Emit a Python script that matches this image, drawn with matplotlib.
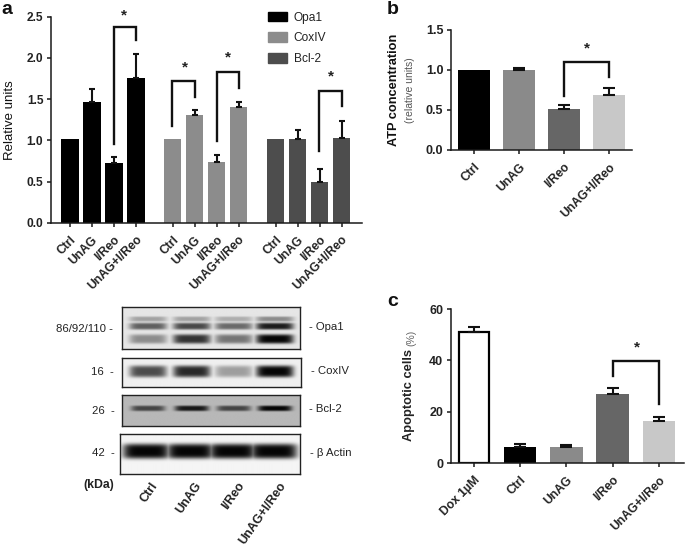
import numpy as np
import matplotlib
matplotlib.use("Agg")
import matplotlib.pyplot as plt
from matplotlib.patches import Patch

plt.rcParams['font.family'] = ['Liberation Sans', 'DejaVu Sans']
W, H = 685, 547
fig = plt.figure(figsize=(W/100, H/100), dpi=100)

# ---------- data ----------
conds = ['Ctrl', 'UnAG', 'I/Reo', 'UnAG+I/Reo']
conds_c = ['Dox 1µM', 'Ctrl', 'UnAG', 'I/Reo', 'UnAG+I/Reo']
proteins = ['Opa1', 'CoxIV', 'Bcl-2']
opa1 = [1.01, 1.47, 0.73, 1.76]
opa1_err = [0, 0.15, 0.07, 0.29]
coxiv = [1.01, 1.31, 0.74, 1.41]
coxiv_err = [0, 0.06, 0.08, 0.06]
bcl2 = [1.01, 1.01, 0.50, 1.03]
bcl2_err = [0, 0.11, 0.15, 0.21]
atp = [1.0, 1.0, 0.51, 0.69]
atp_err = [0, 0.03, 0.05, 0.09]
apop = [51.2, 6.3, 6.2, 26.8, 16.2]
apop_err = [1.7, 1.0, 0.9, 2.3, 1.6]

# band strength per lane (0-1), read from the blots
opa1_top = [0.30, 0.30, 0.25, 0.40]
opa1_mid = [0.60, 0.70, 0.55, 0.90]
opa1_low = [0.40, 0.80, 0.50, 1.00]
cox_band = [0.70, 0.85, 0.35, 1.00]
bcl_band = [0.65, 0.90, 0.65, 1.00]
act_band = [1.00, 1.00, 1.00, 1.00]
lane_centres = [0.58, 1.56, 2.50, 3.42]

def px_axes(l, t, r, b):
    return fig.add_axes([l/W, 1-b/H, (r-l)/W, (b-t)/H])

def style(ax, yticks, fmt, xticks, labels, fs=8.7, yfs=8.6, ticklen=3):
    for s in ('top', 'right'):
        ax.spines[s].set_visible(False)
    for s in ('left', 'bottom'):
        ax.spines[s].set_linewidth(1.1)
        ax.spines[s].set_color('#1a1a1a')
    ax.set_yticks(yticks)
    ax.set_yticklabels([fmt % v for v in yticks], fontweight='bold', fontsize=yfs, color='#222222')
    ax.set_xticks(xticks)
    ax.set_xticklabels(labels, rotation=45, ha='right', rotation_mode='anchor',
                       fontweight='bold', fontsize=fs, color='#222222')
    ax.tick_params(axis='both', length=ticklen, width=1.1, color='#1a1a1a', pad=2.5)
    ax.tick_params(axis='x', pad=5)

def bracket(ax, x0, x1, y_left, y_top, y_right, star_x, star_y, lw=1.7):
    ax.plot([x0, x0, x1, x1], [y_left, y_top, y_top, y_right], color='#111111', lw=lw,
            solid_joinstyle='miter', clip_on=False)
    ax.text(star_x, star_y, '*', ha='center', va='center', fontsize=11, color='#222222',
            fontweight='bold', clip_on=False)

def bars(ax, x, vals, errs, colors, width, cap, edge=None, lw=0):
    x = np.asarray(x)
    vals = np.asarray(vals)
    errs = np.asarray(errs)
    ax.bar(x, vals, width=width, color=colors, edgecolor=edge if edge else colors, linewidth=lw)
    m = errs > 0
    ax.errorbar(x[m], vals[m], yerr=[np.zeros(m.sum()), errs[m]], fmt='none', ecolor='#111111',
                elinewidth=1.5, capsize=cap, capthick=1.5)

# ---------- panel a ----------
ax = px_axes(51, 16.7, 362, 222.7)
unit = 22.0
ax.set_xlim(-(69.7-51)/unit, (362-69.7)/unit)
ax.set_ylim(0, 2.5)
group_step = 4.68
series = [opa1, coxiv, bcl2]
series_err = [opa1_err, coxiv_err, bcl2_err]
cols = ['#000000', '#8c8c8c', '#4d4d4d']
xt, xl = [], []
for g, (v, e, c) in enumerate(zip(series, series_err, cols)):
    x = np.arange(4) + g*group_step
    bars(ax, x, v, e, c, 0.80, 2.4)
    xt += list(x)
    xl += conds
style(ax, [0, 0.5, 1, 1.5, 2, 2.5], '%.1f', xt, xl)
ax.set_ylabel('Relative units', fontsize=9.5, fontweight='normal', color='#111111', labelpad=8)
bracket(ax, 2, 3, 0.955, 2.37, 2.22, 2.48, 2.52)
bracket(ax, 4.66, 5.68, 1.17, 1.72, 1.53, 5.22, 1.88)
bracket(ax, 6.68, 7.68, 0.99, 1.83, 1.64, 7.2, 2.0)
bracket(ax, 11.35, 12.36, 0.87, 1.60, 1.42, 11.86, 1.77)
fig.legend(handles=[Patch(color=c, label=p) for c, p in zip(cols, proteins)],
           loc='upper left', bbox_to_anchor=(268/W, 1-11.5/H), frameon=False, fontsize=8.6,
           handlelength=1.6, handleheight=0.85, handletextpad=0.55, labelspacing=0.74,
           labelcolor='#222222', borderpad=0, borderaxespad=0)

# ---------- panel b ----------
ax = px_axes(451, 30, 632, 150)
unit = 45.2
ax.set_xlim(-(473.7-451)/unit, (632-473.7)/unit)
ax.set_ylim(0, 1.5)
x = np.arange(4)
cols_b = ['#000000', '#8a8a8a', '#666666', '#c8c8c8']
bars(ax, x, atp, atp_err, cols_b, 0.70, 4.6)
style(ax, [0, 0.5, 1, 1.5], '%.1f', x, conds, yfs=9)
bracket(ax, 2, 3, 0.675, 1.10, 0.915, 2.5, 1.27)
fig.text(394/W, 1-90/H, 'ATP concentration', rotation=90, ha='center', va='center',
         fontsize=9.2, fontweight='bold', color='#111111')
fig.text(410/W, 1-90/H, '(relative units)', rotation=90, ha='center', va='center',
         fontsize=7.5, color='#555555')

# ---------- panel c ----------
ax = px_axes(451, 309, 684, 463)
unit = 46.2
ax.set_xlim(-(474-451)/unit, (684-474)/unit)
ax.set_ylim(0, 60)
x = np.arange(5)
cols_c = ['#ffffff', '#000000', '#8a8a8a', '#666666', '#c8c8c8']
ax.bar(x[:1], apop[:1], width=0.66, color='white', edgecolor='black', linewidth=1.6)
bars(ax, x[1:], apop[1:], apop_err[1:], cols_c[1:], 0.70, 4.6)
ax.errorbar(x[:1], apop[:1], yerr=[[0], apop_err[:1]], fmt='none', ecolor='#111111',
            elinewidth=1.5, capsize=4.6, capthick=1.5)
style(ax, [0, 20, 40, 60], '%d', x, conds_c, yfs=9)
bracket(ax, 3, 4, 34, 39.7, 23, 3.53, 45)
fig.text(409/W, 1-395/H, 'Apoptotic cells', rotation=90, ha='center', va='center',
         fontsize=9.3, fontweight='bold', color='#222222')
fig.text(411/W, 1-337.5/H, '(%)', rotation=90, ha='center', va='center',
         fontsize=7.5, color='#666666')

# ---------- blots ----------
def blot(box, bands, bg=0.95, bw=0.42):
    l, t, r, b = box
    w, h = int(r-l), int(b-t)
    xx, yy = np.meshgrid(np.linspace(0, 4, w*2), np.linspace(0, 1, h*2))
    img = np.full(xx.shape, bg, dtype=float)
    for strengths, yc, sy in bands:
        dark = np.zeros(xx.shape)
        for c, s in zip(lane_centres, strengths):
            lane = np.exp(-((xx-c)/bw)**6)
            dark = np.maximum(dark, (bg-0.02)*s*lane*np.exp(-((yy-yc)/sy)**4))
        img -= dark
    a = px_axes(l, t, r, b)
    a.imshow(np.clip(img, 0, 1), cmap='gray', vmin=0, vmax=1, aspect='auto',
             extent=(0, 4, 1, 0), interpolation='bilinear')
    a.set_xticks([])
    a.set_yticks([])
    for s in a.spines.values():
        s.set_linewidth(1.0)
        s.set_color('#222222')

blot((121.7, 306.7, 300, 349.3), [(opa1_top, 0.30, 0.06), (opa1_mid, 0.47, 0.08), (opa1_low, 0.77, 0.11)], bg=0.90)
blot((122.3, 357.7, 300.7, 387), [(cox_band, 0.48, 0.20)], bg=0.94)
blot((121.7, 395.3, 300, 425.7), [(bcl_band, 0.43, 0.09)], bg=0.72, bw=0.38)
blot((120.3, 434.3, 299.7, 474.3), [(act_band, 0.43, 0.19)], bg=0.96, bw=0.52)

def t(x, y, s, ha='left', **kw):
    kw.setdefault('fontsize', 8.2)
    kw.setdefault('color', '#222222')
    fig.text(x/W, 1-y/H, s, ha=ha, va='center', **kw)

t(113, 328.7, '86/92/110 -', ha='right')
t(114, 371.7, '16  -', ha='right')
t(115, 410.7, '26  -', ha='right')
t(115, 452.7, '42  -', ha='right')
t(308.7, 326.7, '- Opa1')
t(310.7, 371, '- CoxIV')
t(309, 409.3, '- Bcl-2')
t(310, 452.7, '- β Actin')
t(114, 485, '(kDa)', ha='right', fontweight='bold', fontsize=8.8)
for cx, lab in zip([150, 194, 237, 279], conds):
    fig.text(cx/W, 1-480/H, lab, rotation=55, ha='right', va='top', rotation_mode='anchor',
             fontweight='bold', fontsize=9, color='#222222')

# ---------- panel letters ----------
t(1, 9, 'a', fontsize=14, fontweight='bold', color='#111111')
t(387, 9, 'b', fontsize=14, fontweight='bold', color='#111111')
t(387, 301, 'c', fontsize=14, fontweight='bold', color='#111111')

fig.savefig('out.png', dpi=100)
